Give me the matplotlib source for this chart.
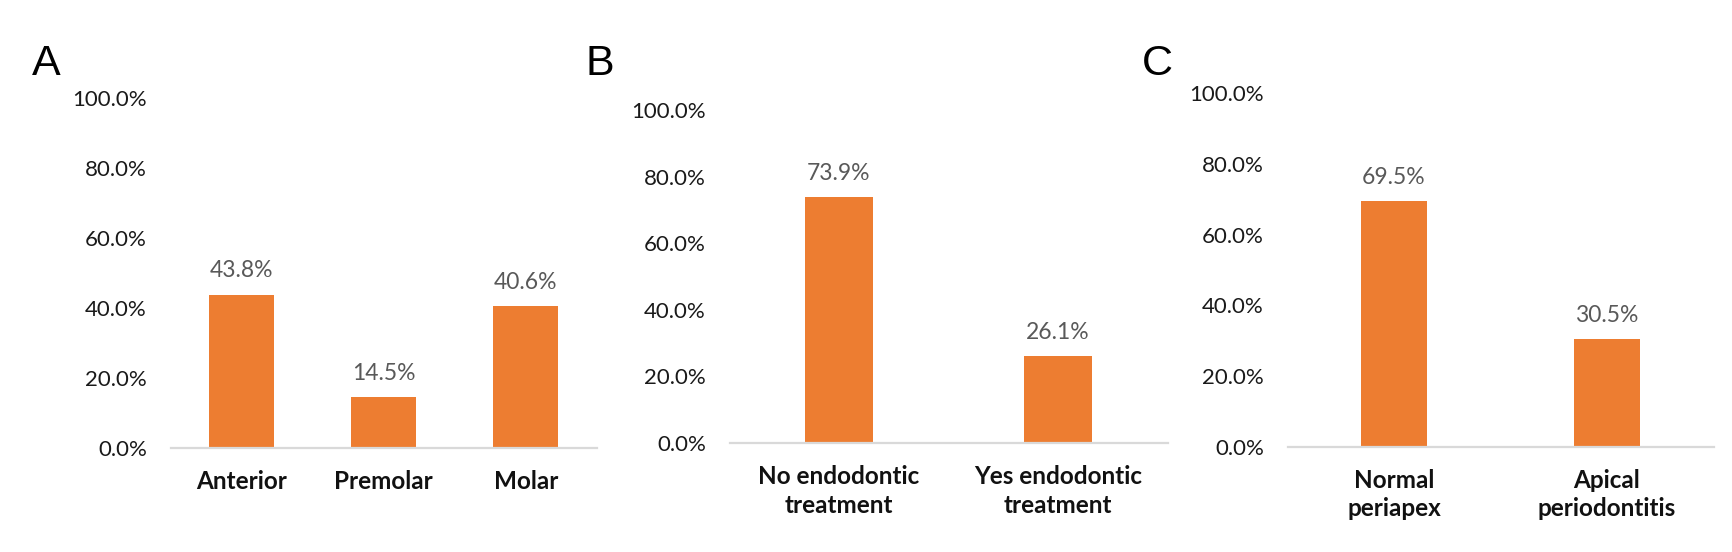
import matplotlib
matplotlib.use("Agg")
from matplotlib import pyplot as plt

W, H = 1732, 552

# panel A
teeth = ["Anterior", "Premolar", "Molar"]
teeth_pct = [43.8, 14.5, 40.6]
# panel B
endo = ["No endodontic\ntreatment", "Yes endodontic\ntreatment"]
endo_pct = [73.9, 26.1]
# panel C
periapex = ["Normal\nperiapex", "Apical\nperiodontitis"]
periapex_pct = [69.5, 30.5]

y_ticks = [0, 20, 40, 60, 80, 100]

ORANGE = "#ED7D31"
GRID = "#D9D9D9"
FONT = "Lato"

plt.rcParams["font.family"] = [FONT, "DejaVu Sans"]

fig = plt.figure(figsize=(W / 100, H / 100), dpi=100)


def px_axes(x0, x1, ytop, ybot):
    return fig.add_axes([x0 / W, (H - ybot) / H, (x1 - x0) / W, (ybot - ytop) / H])


def draw_panel(ax, cats, vals, width, linespacing):
    x = list(range(len(cats)))
    ax.bar(x, vals, width=width, color=ORANGE)
    ax.set_xlim(-0.5, len(cats) - 0.5)
    ax.set_ylim(0, 100)
    ax.set_yticks(y_ticks)
    ax.set_yticklabels([f"{t:.1f}%" for t in y_ticks], fontsize=16, color="#1a1a1a")
    ax.set_xticks(x)
    ax.set_xticklabels(cats, fontsize=17.5, fontweight="bold", color="#111111",
                       linespacing=linespacing)
    ax.tick_params(axis="y", length=0, pad=17)
    ax.tick_params(axis="x", length=0, pad=16)
    for s in ["top", "right", "left"]:
        ax.spines[s].set_visible(False)
    ax.spines["bottom"].set_color(GRID)
    ax.spines["bottom"].set_linewidth(1.6)
    for xi, v in zip(x, vals):
        ax.annotate(f"{v:.1f}%", (xi, v), xytext=(0, 12.5), textcoords="offset points",
                    ha="center", va="baseline", fontsize=16.5, color="#595959")


ax_a = px_axes(170.5, 597, 98, 448)
draw_panel(ax_a, teeth, teeth_pct, 0.457, 1.2)

ax_b = px_axes(729.5, 1167.5, 110, 443)
draw_panel(ax_b, endo, endo_pct, 0.31, 1.3)

ax_c = px_axes(1287.5, 1713.5, 93, 447)
draw_panel(ax_c, periapex, periapex_pct, 0.31, 1.25)

for letter, cx in [("A", 46), ("B", 600), ("C", 1157)]:
    fig.text(cx / W, (H - 64) / H, letter, ha="center", va="center",
             fontsize=31, family="Liberation Sans")

fig.savefig("out.png", dpi=100)
